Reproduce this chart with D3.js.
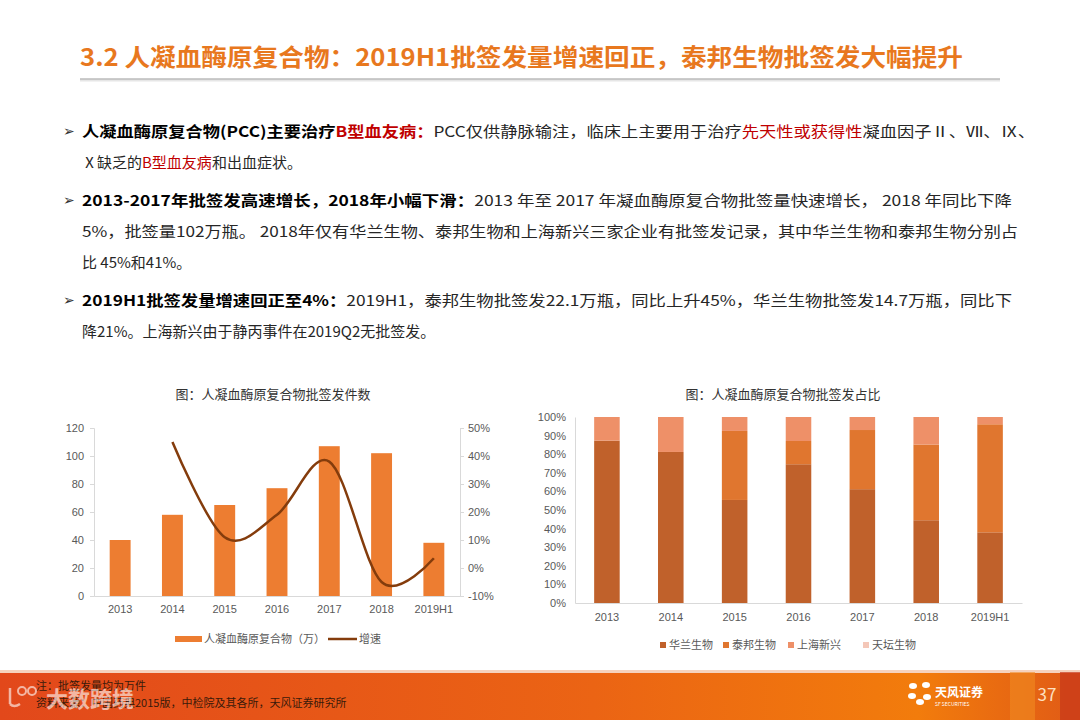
<!DOCTYPE html>
<html lang="zh">
<head>
<meta charset="UTF-8">
<title>人凝血酶原复合物批签发</title>
<script src="https://d3js.org/d3.v7.min.js"></script>
<style>
  body { margin: 0; background: #fff; }
  svg { display: block; font-family: "Noto Sans CJK SC", "Noto Sans", sans-serif; }
  .tick text { fill: #595959; font-size: 11px; }
</style>
</head>
<body>
<div id="page"></div>
<script>
// ---- 数据 ----
var years = ["2013", "2014", "2015", "2016", "2017", "2018", "2019H1"];
var volume = [40, 58, 65, 77, 107, 102, 38];          // 批签发量（万）
var growth = [null, 45, 11, 19, 38, -5, 3.5];          // 增速 %
var leftTicks = [0, 20, 40, 60, 80, 100, 120];
var rightTicks = [-10, 0, 10, 20, 30, 40, 50];

var companies = ["华兰生物", "泰邦生物", "上海新兴", "天坛生物"];
var hualan   = [87.3, 81.2, 55.4, 74.6, 61.2, 44.5, 38.0];
var taibang  = [0, 0, 37.1, 12.5, 31.8, 40.7, 58.1];
var xinxing  = [12.7, 18.8, 7.5, 12.9, 7.0, 14.8, 3.9];
var tiantan  = [0, 0, 0, 0, 0, 0, 0];
var shareTicks = [0, 10, 20, 30, 40, 50, 60, 70, 80, 90, 100];

var W = 1080, H = 720;
var svg = d3.select("#page").append("svg").attr("width", W).attr("height", H);

// ---- 页眉 ----
svg.append("text")
  .attr("x", 80).attr("y", 66)
  .attr("textLength", 883).attr("lengthAdjust", "spacingAndGlyphs")
  .style("font-size", "24px").style("font-weight", "bold").style("fill", "#E8781E")
  .text("3.2 人凝血酶原复合物：2019H1批签发量增速回正，泰邦生物批签发大幅提升");
svg.append("line").attr("x1", 80).attr("x2", 1000).attr("y1", 80).attr("y2", 80)
  .style("stroke", "#e6e6e6").style("stroke-width", 3);
svg.append("line").attr("x1", 80).attr("x2", 1000).attr("y1", 79).attr("y2", 79)
  .style("stroke", "#a6a6a6").style("stroke-width", 1.2);

// ---- 正文 ----
// 每行是若干片段：[文字, 粗体, 红色]
var lines = [
  {y: 137, bullet: true, len: 953, segs: [["人凝血酶原复合物(PCC)主要治疗", 1, 0], ["B型血友病：", 1, 1], ["PCC仅供静脉输注，临床上主要用于治疗", 0, 0], ["先天性或获得性", 0, 1], ["凝血因子Ⅱ、Ⅶ、Ⅸ、", 0, 0]]},
  {y: 168, segs: [["Ⅹ缺乏的", 0, 0], ["B型血友病", 0, 1], ["和出血症状。", 0, 0]]},
  {y: 206, bullet: true, len: 930, segs: [["2013-2017年批签发高速增长，2018年小幅下滑：", 1, 0], ["2013 年至 2017 年凝血酶原复合物批签量快速增长， 2018 年同比下降", 0, 0]]},
  {y: 237, len: 936, segs: [["5%，批签量102万瓶。 2018年仅有华兰生物、泰邦生物和上海新兴三家企业有批签发记录，其中华兰生物和泰邦生物分别占", 0, 0]]},
  {y: 268, segs: [["比 45%和41%。", 0, 0]]},
  {y: 306, bullet: true, len: 930, segs: [["2019H1批签发量增速回正至4%：", 1, 0], ["2019H1，泰邦生物批签发22.1万瓶，同比上升45%，华兰生物批签发14.7万瓶，同比下", 0, 0]]},
  {y: 337, segs: [["降21%。上海新兴由于静丙事件在2019Q2无批签发。", 0, 0]]}
];
lines.forEach(function(l) {
  if (l.bullet) {
    svg.append("text").attr("x", 63).attr("y", l.y - 1)
      .style("font-family", "DejaVu Sans").style("font-size", "14px").style("fill", "#333")
      .text("➢");
  }
  var t = svg.append("text").attr("x", 82).attr("y", l.y).style("font-size", "15px");
  if (l.len) t.attr("textLength", l.len).attr("lengthAdjust", "spacingAndGlyphs");
  l.segs.forEach(function(s) {
    t.append("tspan").text(s[0])
      .style("font-weight", s[1] ? "bold" : "normal")
      .style("fill", s[2] ? "#C00000" : (s[1] ? "#000" : "#262626"));
  });
});

// ---- 左图：批签发件数 ----
var L = {left: 94, right: 460, top: 428, bottom: 596};
svg.append("text").attr("x", 273).attr("y", 399).attr("text-anchor", "middle")
  .style("font-size", "13px").style("fill", "#333").text("图：人凝血酶原复合物批签发件数");

var x1 = d3.scaleBand().domain(years).range([L.left, L.right]).paddingInner(0.6).paddingOuter(0.3);
var yL = d3.scaleLinear().domain([0, 120]).range([L.bottom, L.top]);
var yR = d3.scaleLinear().domain([-10, 50]).range([L.bottom, L.top]);

var gL = svg.append("g").attr("transform", "translate(" + L.left + ",0)")
  .call(d3.axisLeft(yL).tickValues(leftTicks).tickSize(4).tickPadding(6));
var gR = svg.append("g").attr("transform", "translate(" + L.right + ",0)")
  .call(d3.axisRight(yR).tickValues(rightTicks).tickSize(4).tickPadding(4).tickFormat(function(d) { return d + "%"; }));
var gB = svg.append("g").attr("transform", "translate(0," + L.bottom + ")")
  .call(d3.axisBottom(x1).tickSize(0).tickPadding(9));
[gL, gR, gB].forEach(function(g) {
  g.select(".domain").style("stroke", "#d9d9d9");
  g.selectAll(".tick line").style("stroke", "#d9d9d9");
});

svg.append("g").selectAll("rect").data(volume).enter().append("rect")
  .attr("x", function(d, i) { return x1(years[i]); })
  .attr("width", x1.bandwidth())
  .attr("y", function(d) { return yL(d); })
  .attr("height", function(d) { return yL(0) - yL(d); })
  .style("fill", "#ED7D31");

var line = d3.line()
  .defined(function(d) { return d != null; })
  .x(function(d, i) { return x1(years[i]) + x1.bandwidth() / 2; })
  .y(function(d) { return yR(d); })
  .curve(d3.curveCardinal);
svg.append("path").datum(growth).attr("d", line)
  .style("fill", "none").style("stroke", "#843C0C").style("stroke-width", 2.5);

// 左图图例
svg.append("rect").attr("x", 175).attr("y", 636).attr("width", 27).attr("height", 6).style("fill", "#ED7D31");
svg.append("text").attr("x", 204).attr("y", 643).style("font-size", "11px").style("fill", "#595959").text("人凝血酶原复合物（万）");
svg.append("line").attr("x1", 328).attr("x2", 357).attr("y1", 639).attr("y2", 639).style("stroke", "#843C0C").style("stroke-width", 2.5);
svg.append("text").attr("x", 359).attr("y", 643).style("font-size", "11px").style("fill", "#595959").text("增速");

// ---- 右图：批签发占比 ----
var R = {left: 575, right: 1022, top: 417, bottom: 603};
svg.append("text").attr("x", 783).attr("y", 399).attr("text-anchor", "middle")
  .style("font-size", "13px").style("fill", "#333").text("图：人凝血酶原复合物批签发占比");

var x2 = d3.scaleBand().domain(years).range([R.left, R.right]).paddingInner(0.6).paddingOuter(0.3);
var yS = d3.scaleLinear().domain([0, 100]).range([R.bottom, R.top]);

var gS = svg.append("g").attr("transform", "translate(" + R.left + ",0)")
  .call(d3.axisLeft(yS).tickValues(shareTicks).tickSize(0).tickPadding(9).tickFormat(function(d) { return d + "%"; }));
var gS2 = svg.append("g").attr("transform", "translate(0," + R.bottom + ")")
  .call(d3.axisBottom(x2).tickSize(0).tickPadding(10));
[gS, gS2].forEach(function(g) { g.select(".domain").style("stroke", "#d9d9d9"); });

var shareColors = ["#C0612B", "#E0762F", "#EE9068", "#F4C7B8"];
var table = years.map(function(y, i) {
  return {year: y, "华兰生物": hualan[i], "泰邦生物": taibang[i], "上海新兴": xinxing[i], "天坛生物": tiantan[i]};
});
var stacked = d3.stack().keys(companies)(table);
svg.append("g").selectAll("g").data(stacked).enter().append("g")
  .style("fill", function(d, i) { return shareColors[i]; })
  .selectAll("rect").data(function(d) { return d; }).enter().append("rect")
  .attr("x", function(d) { return x2(d.data.year); })
  .attr("width", x2.bandwidth())
  .attr("y", function(d) { return yS(d[1]); })
  .attr("height", function(d) { return yS(d[0]) - yS(d[1]); });

// 右图图例
var legX = [660, 723, 788, 863];
companies.forEach(function(c, i) {
  svg.append("rect").attr("x", legX[i]).attr("y", 642).attr("width", 6).attr("height", 6).style("fill", shareColors[i]);
  svg.append("text").attr("x", legX[i] + 9).attr("y", 649).style("font-size", "11px").style("fill", "#595959").text(c);
});

// ---- 页脚 ----
var defs = svg.append("defs");
var grad = defs.append("linearGradient").attr("id", "foot");
grad.append("stop").attr("offset", "0%").attr("stop-color", "#E2481B");
grad.append("stop").attr("offset", "55%").attr("stop-color", "#EB6414");
grad.append("stop").attr("offset", "85%").attr("stop-color", "#F27C0C");
grad.append("stop").attr("offset", "100%").attr("stop-color", "#E05A16");
svg.append("rect").attr("x", 0).attr("y", 672).attr("width", W).attr("height", 48).style("fill", "url(#foot)");
svg.append("rect").attr("x", 0).attr("y", 670).attr("width", W).attr("height", 3).style("fill", "#f6d2bd");
svg.append("rect").attr("x", 1010).attr("y", 672).attr("width", 25).attr("height", 48).style("fill", "#F08A22").style("opacity", 0.6);
svg.append("rect").attr("x", 1060).attr("y", 672).attr("width", 20).attr("height", 48).style("fill", "#C8361A").style("opacity", 0.7);

svg.append("text").attr("x", 36).attr("y", 690).style("font-size", "11px").style("fill", "#3a1a0a").text("注：批签发量均为万件");
svg.append("text").attr("x", 36).attr("y", 707).style("font-size", "11px").style("fill", "#3a1a0a").text("资料来源：中国药典2015版，中检院及其各所，天风证券研究所");

// 水印（与参考图一样压在脚注上）
var wm = svg.append("g").style("opacity", 0.6);
wm.append("path").attr("d", "M10,688 L10,704 M10,704 Q14,708 20,704")
  .style("fill", "none").style("stroke", "#fff").style("stroke-width", 2.5);
wm.append("circle").attr("cx", 22).attr("cy", 691).attr("r", 4).style("fill", "none").style("stroke", "#fff").style("stroke-width", 2);
wm.append("circle").attr("cx", 32).attr("cy", 691).attr("r", 4).style("fill", "none").style("stroke", "#fff").style("stroke-width", 2);
wm.append("text").attr("x", 46).attr("y", 707).style("font-size", "22px").style("font-weight", "bold").style("fill", "#fff").text("大数跨境");

// 标志
var petals = [[-7, -6], [6, -7], [-8, 4], [7, 5], [0, 10]];
petals.forEach(function(p) {
  svg.append("ellipse").attr("cx", 920 + p[0]).attr("cy", 692 + p[1]).attr("rx", 4).attr("ry", 3).style("fill", "#fff");
});
svg.append("text").attr("x", 935).attr("y", 697).style("font-size", "12px").style("font-weight", "bold").style("fill", "#fff").text("天风证券");
svg.append("text").attr("x", 935).attr("y", 706).style("font-size", "5px").style("fill", "#fff").text("SF SECURITIES");
svg.append("text").attr("x", 1047).attr("y", 701).attr("text-anchor", "middle").style("font-size", "17px").style("fill", "#fde0c0").text("37");
</script>
</body>
</html>
